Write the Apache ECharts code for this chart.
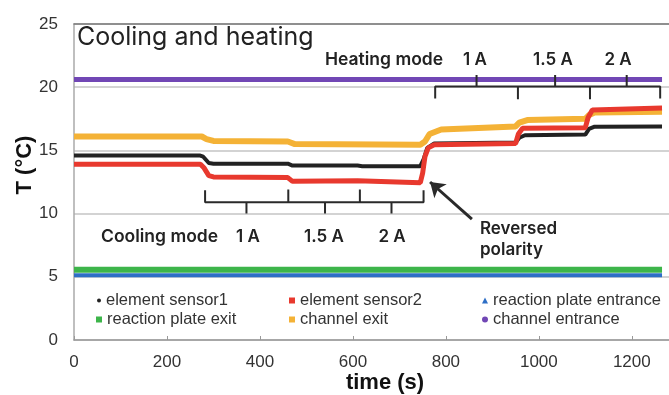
<!DOCTYPE html>
<html>
<head>
<meta charset="utf-8">
<script src="https://cdn.jsdelivr.net/npm/echarts@6/dist/echarts.min.js"></script>
<style>
html,body{margin:0;padding:0;background:#fff;}
#chart{width:669px;height:395px;}
</style>
</head>
<body>
<div id="chart"></div>
<script>
// ---- data (time s, temperature °C) ----
const elementSensor1 = [[0,14.6],[270,14.6],[278,14.5],[290,14.0],[300,13.95],[460,13.95],[470,13.8],[610,13.8],[620,13.75],[745,13.75],[752,14.3],[760,15.2],[775,15.55],[950,15.62],[958,16.0],[970,16.2],[1100,16.25],[1108,16.7],[1120,16.88],[1265,16.9]];
const elementSensor2 = [[0,13.9],[272,13.9],[280,13.6],[290,13.0],[300,12.9],[460,12.85],[470,12.55],[610,12.6],[745,12.45],[750,13.2],[755,14.5],[762,15.2],[775,15.45],[950,15.55],[956,16.3],[965,16.75],[1100,16.8],[1106,17.6],[1115,18.2],[1265,18.35]];
const reactionPlateEntrance = [[0,5.12],[1265,5.12]];
const reactionPlateExit = [[0,5.55],[1265,5.55]];
const channelExit = [[0,16.1],[275,16.1],[285,15.9],[300,15.75],[460,15.7],[475,15.5],[745,15.45],[755,15.7],[765,16.3],[790,16.65],[950,16.9],[958,17.2],[975,17.4],[1100,17.5],[1108,17.8],[1120,18.0],[1265,18.05]];
const channelEntrance = [[0,20.6],[1265,20.6]];

const seriesNames = ['element sensor1','element sensor2','reaction plate entrance','reaction plate exit','channel exit','channel entrance'];
const xTicks = [0,200,400,600,800,1000,1200];
const yTicks = [0,5,10,15,20,25];

// bracket annotations (data coords)
const coolingBracket = [[282,11.85],[282,10.9],[371,10.9],[371,10.0],[371,10.9],[461,10.9],[461,11.9],null,
  [461,11.9],[461,10.9],[540,10.9],[540,10.0],[540,10.9],[615,10.9],[615,11.9],null,
  [615,11.9],[615,10.9],[683,10.9],[683,10.0],[683,10.9],[752,10.9],[752,11.85]];
const heatingBracket = [[777,19.1],[777,20.05],[866,20.05],[866,20.97],[866,20.05],[955,20.05],[955,19.05],null,
  [955,19.05],[955,20.05],[1035,20.05],[1035,20.97],[1035,20.05],[1110,20.05],[1110,19.05],null,
  [1110,19.05],[1110,20.05],[1189,20.05],[1189,20.97],[1189,20.05],[1261,20.05],[1261,19.1]];
const arrowFrom = [856,9.57];
const arrowTo = [766,12.5];

const colors = {
  'element sensor1':'#222222',
  'element sensor2':'#e8392e',
  'reaction plate entrance':'#2e6fc6',
  'reaction plate exit':'#3db54a',
  'channel exit':'#f4b236',
  'channel entrance':'#7147b5'
};
const FONT = '"Liberation Sans", Arial, sans-serif';
const AFONT = 'Inter, "Open Sans", sans-serif';

function lineSeries(name, data, width, z){
  return {name, type:'line', data, showSymbol:false, symbol:'none', z,
    lineStyle:{color:colors[name], width}, itemStyle:{color:colors[name]}, animation:false};
}

const legendDefs = [
  {name:'element sensor1', icon:'circle', w:4, left:97, top:292},
  {name:'element sensor2', icon:'rect', w:6, left:289, top:292},
  {name:'reaction plate entrance', icon:'triangle', w:6, left:482, top:292},
  {name:'reaction plate exit', icon:'rect', w:6, left:96, top:311},
  {name:'channel exit', icon:'rect', w:6, left:289, top:311},
  {name:'channel entrance', icon:'circle', w:6, left:482, top:311}
];

function txt(x, y, text, font, align){
  return {type:'text', x, y, z:100, style:{text, font, fill:'#222', textAlign:align||'center', textVerticalAlign:'middle'}};
}

const chart = echarts.init(document.getElementById('chart'), null, {renderer:'canvas'});
const option = {
  animation:false,
  backgroundColor:'#fff',
  grid:{left:74, top:24, right:0, bottom:55},
  legend: legendDefs.map(d => ({
    data:[{name:d.name, icon:d.icon}], left:d.left, top:d.top, itemWidth:d.w, itemHeight:d.w,
    padding:0, selectedMode:false,
    textStyle:{fontFamily:FONT, fontSize:16.5, color:'#333'}
  })),
  xAxis:[{type:'value', min:0, max:1280, interval:200,
    axisLine:{show:true, lineStyle:{color:'#999', width:1.5}},
    axisTick:{show:true, inside:true, length:4, lineStyle:{color:'#999'}},
    axisLabel:{fontFamily:FONT, fontSize:17, color:'#333', margin:14, showMaxLabel:false,
      formatter: v => xTicks.includes(v) ? String(v) : ''},
    splitLine:{show:false}},
    {type:'value', position:'top', min:0, max:1280, interval:200,
    axisLine:{show:true, onZero:false, lineStyle:{color:'#7a7a7a', width:1.5}},
    axisTick:{show:false}, axisLabel:{show:false}, splitLine:{show:false}}],
  yAxis:{type:'value', min:0, max:25, interval:5,
    axisLine:{show:true, lineStyle:{color:'#aaa', width:1.5}},
    axisTick:{show:false},
    axisLabel:{fontFamily:FONT, fontSize:17, color:'#333', margin:16,
      formatter: v => yTicks.includes(v) ? String(v) : ''},
    splitLine:{show:true, lineStyle:{color:'#c4c4c4', width:1.5}}},
  series:[
    lineSeries('reaction plate entrance', reactionPlateEntrance, 4, 2),
    lineSeries('reaction plate exit', reactionPlateExit, 6, 3),
    lineSeries('element sensor1', elementSensor1, 4, 4),
    lineSeries('channel exit', channelExit, 6, 5),
    lineSeries('element sensor2', elementSensor2, 5, 6),
    lineSeries('channel entrance', channelEntrance, 5, 7),
    {name:'_coolBracket', type:'line', data:coolingBracket, showSymbol:false, symbol:'none', connectNulls:false, z:8,
      lineStyle:{color:'#2a2a2a', width:2}, silent:true},
    {name:'_heatBracket', type:'line', data:heatingBracket, showSymbol:false, symbol:'none', connectNulls:false, z:8,
      lineStyle:{color:'#2a2a2a', width:2}, silent:true,
      markLine:{silent:true, symbol:['none','arrow'], symbolSize:14, label:{show:false},
        lineStyle:{color:'#2a2a2a', width:3, type:'solid'},
        data:[[{coord:arrowFrom},{coord:arrowTo}]]}}
  ],
  graphic:[
    {type:'text', x:77, y:25, z:100, style:{text:'Cooling and heating', font:'25px '+AFONT, fill:'#222', textAlign:'left', textVerticalAlign:'top'}},
    txt(325, 60, 'Heating mode', '600 17.5px '+AFONT, 'left'),
    txt(475, 60, '1 A', '600 17px '+AFONT),
    txt(553, 60, '1.5 A', '600 17px '+AFONT),
    txt(618, 60, '2 A', '600 17px '+AFONT),
    txt(101, 237, 'Cooling mode', '600 17.5px '+AFONT, 'left'),
    txt(248, 237, '1 A', '600 17px '+AFONT),
    txt(324, 237, '1.5 A', '600 17px '+AFONT),
    txt(392, 237, '2 A', '600 17px '+AFONT),
    txt(480, 229, 'Reversed', '600 17px '+AFONT, 'left'),
    txt(480, 250, 'polarity', '600 17px '+AFONT, 'left'),
    {type:'text', x:385, y:383, z:100, style:{text:'time (s)', font:'bold 22px '+FONT, fill:'#111', textAlign:'center', textVerticalAlign:'middle'}},
    {type:'text', x:25, y:165, z:100, rotation:Math.PI/2, style:{text:'T (°C)', font:'bold 22px '+FONT, fill:'#111', textAlign:'center', textVerticalAlign:'middle'}}
  ]
};
chart.setOption(option);
</script>
</body>
</html>
